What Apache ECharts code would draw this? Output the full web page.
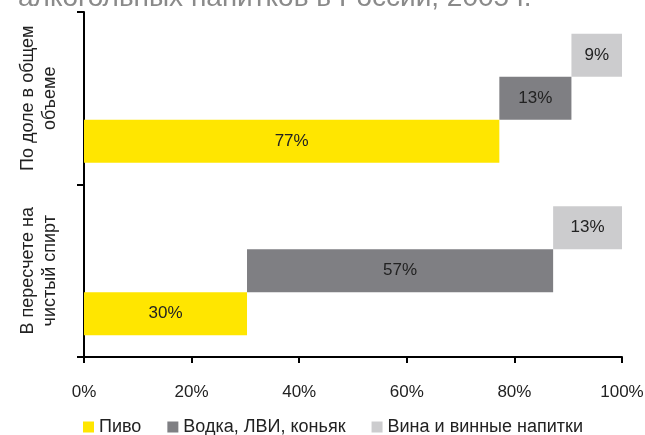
<!DOCTYPE html>
<html>
<head>
<meta charset="utf-8">
<script src="https://cdn.jsdelivr.net/npm/echarts@6/dist/echarts.min.js"></script>
<style>
  html, body { margin: 0; padding: 0; background: #fff; }
  #chart { width: 645px; height: 435px; }
</style>
</head>
<body>
<div id="chart"></div>
<script>
const categories = ['В пересчете на\nчистый спирт', 'По доле в общем\nобъеме']
const beer = [30.3, 77.2]
const vodka = [56.9, 13.4]
const wine = [12.8, 9.4]
const xTicks = [0, 20, 40, 60, 80, 100]

const FONT = "'Liberation Sans', Arial, sans-serif"

// offsets so each bar starts where the previous one ends
const vodkaStart = beer.map(v => v)
const wineStart = beer.map((v, i) => v + vodka[i])

const chart = echarts.init(document.getElementById('chart'))

const pctLabel = {
  show: true,
  position: 'inside',
  color: '#222',
  fontSize: 17,
  fontFamily: FONT,
  formatter: p => Math.round(p.value) + '%'
}

const spacer = (name, stack, data) => ({
  name: name,
  type: 'bar',
  stack: stack,
  data: data,
  barWidth: 43,
  barGap: '0%',
  silent: true,
  itemStyle: { color: 'transparent' },
  label: { show: false }
})

let option = {
  animation: false,
  title: {
    text: 'алкогольных напитков в России, 2005 г.',
    left: 13,
    top: -21,
    textStyle: { color: '#8a8a8a', fontSize: 28, fontWeight: 'normal', fontFamily: FONT }
  },
  legend: {
    data: ['Пиво', 'Водка, ЛВИ, коньяк', 'Вина и винные напитки'],
    left: 78,
    top: 413,
    itemWidth: 11,
    itemHeight: 11,
    itemGap: 26,
    icon: 'rect',
    textStyle: { fontSize: 18, color: '#222', fontFamily: FONT }
  },
  grid: { left: 84, right: 23, top: 12, bottom: 78, outerBoundsMode: 'none' },
  xAxis: {
    type: 'value',
    min: 0,
    max: 100,
    interval: 20,
    splitLine: { show: false },
    axisLine: { show: true, lineStyle: { color: '#000', width: 2 } },
    axisTick: { show: true, length: 6, lineStyle: { color: '#000', width: 2 } },
    axisLabel: {
      margin: 27,
      fontSize: 17,
      color: '#222',
      fontFamily: FONT,
      formatter: v => xTicks.includes(v) ? v + '%' : ''
    }
  },
  yAxis: {
    type: 'category',
    data: categories,
    axisLine: { show: true, lineStyle: { color: '#000', width: 2 } },
    axisTick: { show: true, length: 7, lineStyle: { color: '#000', width: 2 } },
    axisLabel: {
      interval: 0,
      hideOverlap: false,
      rotate: 90,
      margin: 23,
      fontSize: 18,
      lineHeight: 22,
      color: '#222',
      fontFamily: FONT,
      align: 'center'
    }
  },
  series: [
    spacer('s2', 'c', wineStart),
    {
      name: 'Вина и винные напитки',
      type: 'bar',
      stack: 'c',
      data: wine,
      barWidth: 43,
      barGap: '0%',
      itemStyle: { color: '#CCCCCE' },
      label: pctLabel
    },
    spacer('s1', 'b', vodkaStart),
    {
      name: 'Водка, ЛВИ, коньяк',
      type: 'bar',
      stack: 'b',
      data: vodka,
      barWidth: 43,
      barGap: '0%',
      itemStyle: { color: '#7F7F83' },
      label: pctLabel
    },
    {
      name: 'Пиво',
      type: 'bar',
      stack: 'a',
      data: beer,
      barWidth: 43,
      barGap: '0%',
      itemStyle: { color: '#FFE600' },
      label: pctLabel
    }
  ]
}

chart.setOption(option)
</script>
</body>
</html>
